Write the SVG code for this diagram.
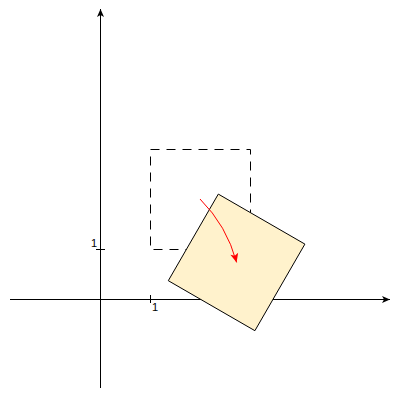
<svg xmlns="http://www.w3.org/2000/svg" width="400" height="400" viewBox="0 0 400 400">
<style>
.axis{stroke:#000;stroke-width:1;fill:none}
.lbl{font-family:"Liberation Sans",Arial,sans-serif;font-size:11px;fill:#000}
</style>
<defs>
<marker id="ah" markerWidth="10" markerHeight="10" viewBox="-9 -5 10 10" refX="0" refY="0" orient="auto" markerUnits="userSpaceOnUse">
<path d="M0,0 L-8,-3.5 L-6,0 L-8,3.5 z" fill="#000"/>
</marker>
<marker id="ahr" markerWidth="12" markerHeight="12" viewBox="-10 -6 12 12" refX="0" refY="0" orient="auto" markerUnits="userSpaceOnUse">
<path d="M0,0 L-9,-4 L-7,0 L-9,4 z" fill="#ff0000"/>
</marker>
</defs>
<g id="axes">
<line class="axis" x1="10" y1="299.5" x2="390" y2="299.5" marker-end="url(#ah)"/>
<line class="axis" x1="100.5" y1="388" x2="100.5" y2="9" marker-end="url(#ah)"/>
<line class="axis" x1="150.5" y1="295" x2="150.5" y2="303"/>
<line class="axis" x1="96" y1="249.5" x2="105" y2="249.5"/>
<text class="lbl" x="152" y="311">1</text>
<text class="lbl" x="91" y="247">1</text>
</g>
<g id="dashed-square">
<rect x="150.5" y="149.5" width="100" height="100" fill="none" stroke="#000" stroke-width="1" stroke-dasharray="9 7"/>
</g>
<g id="rotated-square">
<polygon points="218.3,194.1 304.9,244.1 254.9,330.7 168.3,280.7" fill="#fff2cc" stroke="#000" stroke-width="1"/>
</g>
<g id="connectors">
<path d="M200,199 A141.4,141.4 0 0 1 236.6,262.4" fill="none" stroke="#ff0000" stroke-width="1" marker-end="url(#ahr)"/>
</g>
</svg>
